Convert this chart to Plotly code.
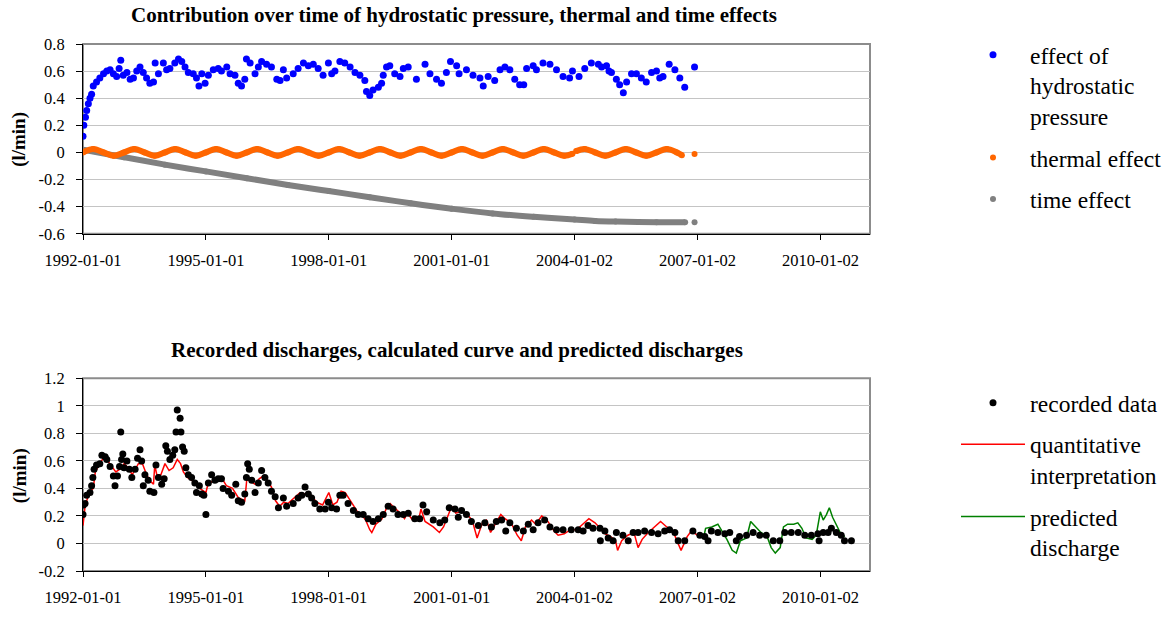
import pandas as pd
import plotly.graph_objects as go

# ---------------- data (x as decimal years) ----------------
# Upper chart: decomposition of the discharge model
hydro_years = [
    1992.00, 1992.02, 1992.06, 1992.09, 1992.13, 1992.17, 1992.21, 1992.25, 1992.33, 1992.41,
    1992.50, 1992.58, 1992.66, 1992.74, 1992.82, 1992.88, 1992.92, 1992.98, 1993.07, 1993.15,
    1993.23, 1993.31, 1993.39, 1993.47, 1993.55, 1993.63, 1993.72, 1993.76, 1993.84, 1993.96,
    1994.04, 1994.12, 1994.24, 1994.33, 1994.41, 1994.49, 1994.57, 1994.69, 1994.77, 1994.83,
    1994.90, 1994.98, 1995.06, 1995.18, 1995.30, 1995.38, 1995.51, 1995.59, 1995.71, 1995.79,
    1995.87, 1995.95, 1995.99, 1996.08, 1996.20, 1996.28, 1996.36, 1996.48, 1996.60, 1996.73,
    1996.81, 1996.89, 1996.97, 1997.13, 1997.25, 1997.38, 1997.50, 1997.62, 1997.74, 1997.86,
    1997.99, 1998.07, 1998.15, 1998.27, 1998.39, 1998.52, 1998.64, 1998.76, 1998.88, 1998.92,
    1999.00, 1999.08, 1999.21, 1999.29, 1999.33, 1999.41, 1999.49, 1999.61, 1999.74, 1999.82,
    1999.94, 2000.14, 2000.35, 2000.47, 2000.63, 2000.75, 2000.87, 2000.97, 2001.12, 2001.18,
    2001.36, 2001.52, 2001.69, 2001.77, 2001.89, 2002.05, 2002.18, 2002.30, 2002.42, 2002.54,
    2002.66, 2002.76, 2002.83, 2002.99, 2003.07, 2003.23, 2003.40, 2003.56, 2003.72, 2003.88,
    2003.95, 2004.11, 2004.25, 2004.41, 2004.58, 2004.66, 2004.78, 2004.84, 2004.90, 2005.02,
    2005.10, 2005.19, 2005.27, 2005.39, 2005.51, 2005.63, 2005.75, 2005.88, 2006.00, 2006.08,
    2006.16, 2006.31, 2006.45, 2006.57, 2006.69, 2006.93,
]
hydro_values = [
    0.12, 0.20, 0.26, 0.31, 0.36, 0.40, 0.43, 0.49, 0.52, 0.55,
    0.58, 0.60, 0.61, 0.58, 0.56, 0.62, 0.68, 0.57, 0.59, 0.54,
    0.55, 0.60, 0.63, 0.59, 0.55, 0.51, 0.52, 0.66, 0.58, 0.66,
    0.61, 0.62, 0.66, 0.69, 0.67, 0.63, 0.59, 0.58, 0.55, 0.49,
    0.58, 0.51, 0.57, 0.61, 0.62, 0.60, 0.63, 0.58, 0.57, 0.51,
    0.49, 0.54, 0.69, 0.66, 0.58, 0.63, 0.67, 0.65, 0.63, 0.54,
    0.53, 0.61, 0.55, 0.58, 0.62, 0.66, 0.64, 0.65, 0.62, 0.57,
    0.66, 0.58, 0.60, 0.67, 0.66, 0.63, 0.59, 0.57, 0.53, 0.45,
    0.42, 0.46, 0.48, 0.51, 0.57, 0.63, 0.64, 0.58, 0.56, 0.62,
    0.63, 0.54, 0.65, 0.58, 0.54, 0.51, 0.59, 0.67, 0.64, 0.58,
    0.61, 0.57, 0.55, 0.49, 0.56, 0.53, 0.61, 0.63, 0.61, 0.54,
    0.50, 0.50, 0.62, 0.64, 0.61, 0.66, 0.65, 0.61, 0.56, 0.55,
    0.60, 0.56, 0.62, 0.66, 0.65, 0.63, 0.64, 0.60, 0.59, 0.54,
    0.50, 0.44, 0.52, 0.58, 0.58, 0.55, 0.52, 0.59, 0.60, 0.55,
    0.56, 0.65, 0.61, 0.55, 0.48, 0.63,
]

thermal_years = [
    1992.00, 1992.25, 1992.50, 1992.75, 1993.00, 1993.25, 1993.50, 1993.75,
    1994.00, 1994.25, 1994.50, 1994.75, 1995.00, 1995.25, 1995.50, 1995.75,
    1996.00, 1996.25, 1996.50, 1996.75, 1997.00, 1997.25, 1997.50, 1997.75,
    1998.00, 1998.25, 1998.50, 1998.75, 1999.00, 1999.25, 1999.50, 1999.75,
    2000.00, 2000.25, 2000.50, 2000.75, 2001.00, 2001.25, 2001.50, 2001.75,
    2002.00, 2002.25, 2002.50, 2002.75, 2003.00, 2003.25, 2003.50, 2003.75, 2003.95,
    None,
    2004.04, 2004.25, 2004.50, 2004.75, 2005.00, 2005.25, 2005.50, 2005.75,
    2006.00, 2006.25, 2006.50, 2006.62,
    None,
    2006.93,
]
thermal_values = [
    0.0, 0.025, 0.0, -0.025, 0.0, 0.025, 0.0, -0.025,
    0.0, 0.025, 0.0, -0.025, 0.0, 0.025, 0.0, -0.025,
    0.0, 0.025, 0.0, -0.025, 0.0, 0.025, 0.0, -0.025,
    0.0, 0.025, 0.0, -0.025, 0.0, 0.025, 0.0, -0.025,
    0.0, 0.025, 0.0, -0.025, 0.0, 0.025, 0.0, -0.025,
    0.0, 0.025, 0.0, -0.025, 0.0, 0.025, 0.0, -0.025, -0.01,
    None,
    0.01, 0.025, 0.0, -0.025, 0.0, 0.025, 0.0, -0.025,
    0.0, 0.025, 0.0, -0.02,
    None,
    -0.012,
]

time_years = [1992.00, 1993.00, 1994.00, 1995.00, 1996.00, 1997.00, 1998.00, 1999.00,
              2000.00, 2001.00, 2002.00, 2003.00, 2004.00, 2004.50, 2005.00, 2006.00,
              2006.70, None, 2006.93]
time_values = [0.02, -0.035, -0.09, -0.14, -0.19, -0.24, -0.285, -0.33,
               -0.375, -0.415, -0.45, -0.475, -0.495, -0.505, -0.51, -0.515,
               -0.515, None, -0.515]

# Lower chart: observed discharge, fitted model and forecast
recorded_years = [
    1992.00, 1992.01, 1992.05, 1992.09, 1992.17, 1992.21, 1992.24, 1992.27, 1992.33, 1992.41,
    1992.46, 1992.54, 1992.58, 1992.66, 1992.74, 1992.78, 1992.84, 1992.89, 1992.92, 1992.94,
    1992.97, 1993.00, 1993.07, 1993.13, 1993.19, 1993.27, 1993.33, 1993.39, 1993.43, 1993.47,
    1993.51, 1993.59, 1993.63, 1993.73, 1993.78, 1993.84, 1993.92, 1993.98, 1994.02, 1994.06,
    1994.12, 1994.19, 1994.24, 1994.27, 1994.30, 1994.37, 1994.39, 1994.43, 1994.47, 1994.51,
    1994.57, 1994.65, 1994.73, 1994.77, 1994.84, 1994.90, 1994.95, 1995.00, 1995.06, 1995.14,
    1995.22, 1995.30, 1995.38, 1995.42, 1995.55, 1995.63, 1995.73, 1995.79, 1995.87, 1995.95,
    1995.99, 1996.02, 1996.06, 1996.12, 1996.20, 1996.28, 1996.36, 1996.44, 1996.52, 1996.60,
    1996.69, 1996.77, 1996.89, 1996.97, 1997.13, 1997.25, 1997.34, 1997.42, 1997.50, 1997.58,
    1997.66, 1997.78, 1997.91, 1997.99, 1998.07, 1998.19, 1998.27, 1998.35, 1998.47, 1998.60,
    1998.72, 1998.84, 1998.96, 1999.08, 1999.21, 1999.33, 1999.45, 1999.57, 1999.69, 1999.82,
    1999.94, 2000.10, 2000.22, 2000.30, 2000.39, 2000.55, 2000.71, 2000.83, 2000.94, 2001.08,
    2001.16, 2001.24, 2001.36, 2001.48, 2001.65, 2001.81, 2001.97, 2002.09, 2002.22, 2002.32,
    2002.42, 2002.58, 2002.75, 2002.87, 2002.99, 2003.11, 2003.27, 2003.40, 2003.56, 2003.72,
    2003.92, 2004.09, 2004.21, 2004.33, 2004.45, 2004.62, 2004.63, 2004.74, 2004.82, 2004.94,
    2005.02, 2005.18, 2005.31, 2005.43, 2005.55, 2005.71, 2005.88, 2006.04, 2006.20, 2006.32,
    2006.45, 2006.53, 2006.69, 2006.89, 2007.06, 2007.18, 2007.26, 2007.34, 2007.50, 2007.67,
    2007.79, 2007.95, 2008.03, 2008.20, 2008.36, 2008.52, 2008.68, 2008.85, 2009.01, 2009.13,
    2009.29, 2009.46, 2009.62, 2009.78, 2009.94, 2009.97, 2010.07, 2010.19, 2010.27, 2010.39,
    2010.51, 2010.59, 2010.76,
]
recorded_values = [
    0.21, 0.28, 0.29, 0.35, 0.37, 0.42, 0.48, 0.54, 0.57, 0.58,
    0.64, 0.63, 0.61, 0.56, 0.49, 0.42, 0.49, 0.56, 0.81, 0.61,
    0.65, 0.55, 0.60, 0.54, 0.48, 0.54, 0.62, 0.68, 0.60, 0.42,
    0.50, 0.46, 0.38, 0.37, 0.57, 0.48, 0.43, 0.47, 0.71, 0.67,
    0.61, 0.64, 0.68, 0.81, 0.97, 0.91, 0.81, 0.70, 0.67, 0.55,
    0.50, 0.48, 0.44, 0.37, 0.42, 0.36, 0.35, 0.21, 0.44, 0.50,
    0.46, 0.47, 0.47, 0.40, 0.38, 0.35, 0.43, 0.31, 0.30, 0.36,
    0.48, 0.58, 0.54, 0.46, 0.37, 0.44, 0.53, 0.48, 0.44, 0.38,
    0.34, 0.26, 0.33, 0.27, 0.29, 0.33, 0.35, 0.41, 0.36, 0.33,
    0.29, 0.25, 0.25, 0.30, 0.26, 0.25, 0.35, 0.35, 0.29, 0.24,
    0.21, 0.21, 0.18, 0.16, 0.18, 0.21, 0.27, 0.25, 0.21, 0.21,
    0.22, 0.18, 0.18, 0.28, 0.23, 0.17, 0.15, 0.17, 0.26, 0.25,
    0.19, 0.24, 0.21, 0.16, 0.13, 0.15, 0.12, 0.16, 0.17, 0.09,
    0.15, 0.11, 0.09, 0.14, 0.10, 0.15, 0.17, 0.12, 0.10, 0.10,
    0.10, 0.10, 0.09, 0.13, 0.11, 0.11, 0.02, 0.09, 0.04, 0.02,
    0.08, 0.06, 0.02, 0.08, 0.08, 0.09, 0.08, 0.07, 0.09, 0.10,
    0.08, 0.02, 0.02, 0.09, 0.06, 0.05, 0.02, 0.09, 0.08, 0.07,
    0.08, 0.02, 0.05, 0.06, 0.08, 0.06, 0.06, 0.02, 0.02, 0.08,
    0.08, 0.08, 0.06, 0.06, 0.07, 0.02, 0.08, 0.08, 0.11, 0.08,
    0.06, 0.02, 0.02,
]

model_years = [
    1992.00, 1992.05, 1992.15, 1992.25, 1992.30, 1992.40, 1992.50, 1992.60, 1992.70, 1992.80,
    1992.95, 1993.00, 1993.10, 1993.20, 1993.35, 1993.45, 1993.55, 1993.65, 1993.72, 1993.75,
    1993.80, 1993.90, 1994.00, 1994.10, 1994.20, 1994.30, 1994.38, 1994.45, 1994.55, 1994.70,
    1994.85, 1995.00, 1995.05, 1995.20, 1995.30, 1995.40, 1995.50, 1995.65, 1995.80, 1995.95,
    1996.00, 1996.10, 1996.20, 1996.30, 1996.40, 1996.50, 1996.60, 1996.70, 1996.80, 1996.90,
    1997.00, 1997.15, 1997.30, 1997.40, 1997.50, 1997.60, 1997.70, 1997.85, 1998.00, 1998.10,
    1998.20, 1998.30, 1998.40, 1998.55, 1998.70, 1998.80, 1998.90, 1999.00, 1999.05, 1999.15,
    1999.30, 1999.40, 1999.50, 1999.60, 1999.75, 1999.85, 1999.92, 2000.05, 2000.20, 2000.25,
    2000.35, 2000.55, 2000.70, 2000.80, 2000.90, 2001.00, 2001.10, 2001.20, 2001.35, 2001.50,
    2001.62, 2001.75, 2001.85, 2001.95, 2002.10, 2002.20, 2002.30, 2002.45, 2002.60, 2002.70,
    2002.80, 2002.95, 2003.05, 2003.20, 2003.35, 2003.50, 2003.60, 2003.75, 2003.90, 2004.05,
    2004.20, 2004.35, 2004.50, 2004.65, 2004.75, 2004.88, 2005.00, 2005.05, 2005.15, 2005.30,
    2005.45, 2005.55, 2005.65, 2005.80, 2005.95, 2006.10, 2006.25, 2006.40, 2006.50, 2006.60,
    2006.75, 2006.85, 2007.00,
]
model_values = [
    0.13, 0.27, 0.37, 0.40, 0.52, 0.58, 0.62, 0.60, 0.56, 0.52,
    0.55, 0.58, 0.55, 0.50, 0.58, 0.58, 0.50, 0.45, 0.43, 0.57,
    0.50, 0.50, 0.58, 0.53, 0.55, 0.61, 0.58, 0.52, 0.48, 0.45,
    0.40, 0.37, 0.43, 0.46, 0.48, 0.47, 0.42, 0.40, 0.33, 0.31,
    0.47, 0.45, 0.43, 0.47, 0.49, 0.46, 0.41, 0.31, 0.27, 0.30,
    0.29, 0.33, 0.37, 0.36, 0.37, 0.34, 0.30, 0.28, 0.37, 0.28,
    0.30, 0.38, 0.37, 0.30, 0.23, 0.21, 0.17, 0.10, 0.08, 0.14,
    0.18, 0.25, 0.29, 0.26, 0.22, 0.18, 0.22, 0.17, 0.18, 0.25,
    0.16, 0.12, 0.08, 0.12, 0.20, 0.27, 0.22, 0.23, 0.22, 0.17,
    0.04, 0.15, 0.17, 0.08, 0.16, 0.21, 0.18, 0.15, 0.06, 0.02,
    0.12, 0.17, 0.14, 0.20, 0.16, 0.09, 0.06, 0.07, 0.10, 0.10,
    0.14, 0.18, 0.15, 0.10, 0.07, 0.05, 0.02, -0.05, 0.02, 0.06,
    0.08, -0.03, 0.03, 0.08, 0.12, 0.16, 0.12, 0.09, 0.02, -0.05,
    0.05, 0.09, 0.06,
]

forecast_years = [
    2007.05, 2007.15, 2007.20, 2007.35, 2007.50, 2007.60, 2007.72, 2007.85, 2007.95, 2008.05,
    2008.20, 2008.30, 2008.40, 2008.55, 2008.70, 2008.80, 2008.90, 2009.02, 2009.10, 2009.20,
    2009.35, 2009.45, 2009.55, 2009.65, 2009.80, 2009.90, 2010.00, 2010.07, 2010.15, 2010.22,
    2010.30, 2010.40, 2010.50, 2010.60,
]
forecast_values = [
    0.06, 0.04, 0.11, 0.12, 0.14, 0.09, 0.03, -0.05, -0.07, 0.02,
    0.04, 0.16, 0.13, 0.08, 0.05, -0.03, -0.07, -0.03, 0.12, 0.14,
    0.14, 0.15, 0.11, 0.04, 0.03, 0.06, 0.23, 0.17, 0.21, 0.26,
    0.19, 0.13, 0.07, 0.05,
]

x_tick_labels = ["1992-01-01", "1995-01-01", "1998-01-01", "2001-01-01",
                 "2004-01-02", "2007-01-02", "2010-01-02"]
x_range = ["1992-01-01", "2011-03-20"]
top_y_ticks = [0.8, 0.6, 0.4, 0.2, 0, -0.2, -0.4, -0.6]
top_y_labels = ["0.8", "0.6", "0.4", "0.2", "0", "-0.2", "-0.4", "-0.6"]
bottom_y_ticks = [1.2, 1.0, 0.8, 0.6, 0.4, 0.2, 0, -0.2]
bottom_y_labels = ["1.2", "1", "0.8", "0.6", "0.4", "0.2", "0", "-0.2"]


def to_dates(years):
    """Convert decimal years to timestamps (None keeps a gap)."""
    out = []
    for y in years:
        if y is None:
            out.append(None)
            continue
        yi = int(y)
        start = pd.Timestamp(year=yi, month=1, day=1)
        end = pd.Timestamp(year=yi + 1, month=1, day=1)
        out.append(start + (end - start) * (y - yi))
    return out


FONT = "Liberation Serif"
fig = go.Figure()

# ---- upper chart ----
fig.add_trace(go.Scatter(
    x=to_dates(time_years), y=time_values, mode="lines",
    line=dict(color="#808080", width=6, shape="spline"),
    xaxis="x", yaxis="y", showlegend=False, hoverinfo="skip"))
fig.add_trace(go.Scatter(
    x=to_dates(time_years), y=time_values, mode="markers", name="time effect",
    marker=dict(color="#808080", size=6), xaxis="x", yaxis="y",
    legend="legend", legendgroup="g3", legendrank=3))
fig.add_trace(go.Scatter(
    x=to_dates(thermal_years), y=thermal_values, mode="lines",
    line=dict(color="#FF6600", width=6, shape="spline"),
    xaxis="x", yaxis="y", showlegend=False, hoverinfo="skip"))
fig.add_trace(go.Scatter(
    x=to_dates(thermal_years), y=thermal_values, mode="markers", name="thermal effect",
    marker=dict(color="#FF6600", size=6), xaxis="x", yaxis="y",
    legend="legend", legendgroup="g2", legendrank=2))
fig.add_trace(go.Scatter(
    x=to_dates(hydro_years), y=hydro_values, mode="markers",
    name="effect of<br>hydrostatic<br>pressure",
    marker=dict(color="#0000FF", size=7), xaxis="x", yaxis="y",
    legend="legend", legendgroup="g1", legendrank=1))

# ---- lower chart ----
fig.add_trace(go.Scatter(
    x=to_dates(model_years), y=model_values, mode="lines",
    name="quantitative<br>interpretation",
    line=dict(color="#FF0000", width=1.5), xaxis="x2", yaxis="y2",
    legend="legend2", legendgroup="h2", legendrank=2))
fig.add_trace(go.Scatter(
    x=to_dates(forecast_years), y=forecast_values, mode="lines",
    name="predicted<br>discharge",
    line=dict(color="#008000", width=1.5), xaxis="x2", yaxis="y2",
    legend="legend2", legendgroup="h3", legendrank=3))
fig.add_trace(go.Scatter(
    x=to_dates(recorded_years), y=recorded_values, mode="markers",
    name="recorded data",
    marker=dict(color="#000000", size=7), xaxis="x2", yaxis="y2",
    legend="legend2", legendgroup="h1", legendrank=1))

# ---- axes ----
TICK_SIZE = 16.5
xcommon = dict(
    type="date", range=x_range, tickvals=x_tick_labels, ticktext=x_tick_labels,
    showgrid=False, showline=True, linecolor="black", linewidth=1,
    ticks="outside", ticklen=5, tickcolor="black",
    tickfont=dict(family=FONT, size=TICK_SIZE, color="black"),
    zeroline=False, ticklabelstandoff=6,
)
ycommon = dict(
    showgrid=True, gridcolor="#c4c4c4", gridwidth=1,
    showline=True, linecolor="black", linewidth=1,
    ticks="outside", ticklen=6, tickcolor="black",
    tickfont=dict(family=FONT, size=TICK_SIZE, color="black"),
    zeroline=False, ticklabelstandoff=8,
)

W, H = 1174, 619
L, R, T, B = 83, 304, 44, 39
plot_h = H - T - B
top_dom = [(H - B - 237) / plot_h, 1.0]
bot_dom = [0.0, (H - B - 384) / plot_h]

LEGEND_SIZE = 23.5
fig.update_layout(
    width=W, height=H,
    margin=dict(l=L, r=R, t=T, b=B),
    paper_bgcolor="white", plot_bgcolor="white",
    xaxis=dict(xcommon, domain=[0, 1], anchor="y"),
    yaxis=dict(ycommon, domain=top_dom, range=[-0.6, 0.8],
               tickvals=top_y_ticks, ticktext=top_y_labels, anchor="x"),
    xaxis2=dict(xcommon, domain=[0, 1], anchor="y2"),
    yaxis2=dict(ycommon, domain=bot_dom, range=[-0.2, 1.2],
                tickvals=bottom_y_ticks, ticktext=bottom_y_labels, anchor="x2"),
    legend=dict(
        xref="container", yref="container", x=956 / W, y=1 - 33 / H,
        xanchor="left", yanchor="top", valign="top",
        font=dict(family=FONT, size=LEGEND_SIZE, color="black"),
        tracegroupgap=8, itemwidth=64, bgcolor="rgba(0,0,0,0)",
    ),
    legend2=dict(
        xref="container", yref="container", x=956 / W, y=1 - 381 / H,
        xanchor="left", yanchor="top", valign="top",
        font=dict(family=FONT, size=LEGEND_SIZE, color="black"),
        tracegroupgap=8, itemwidth=64, bgcolor="rgba(0,0,0,0)",
    ),
)

# plot-area frames
for xr, yr in (("x domain", "y domain"), ("x2 domain", "y2 domain")):
    fig.add_shape(type="rect", xref=xr, yref=yr, x0=0, x1=1, y0=0, y1=1,
                  line=dict(color="#8c8c8c", width=2), layer="below")

plot_w = W - L - R


def px_x(px):
    return (px - L) / plot_w


def px_y(py):
    return (H - B - py) / plot_h


fig.add_annotation(text="<b>Contribution over time of hydrostatic pressure, thermal and time effects</b>",
                   xref="paper", yref="paper", x=px_x(453.5), y=px_y(15),
                   xanchor="center", yanchor="middle", showarrow=False,
                   font=dict(family=FONT, size=21, color="black"))
fig.add_annotation(text="<b>Recorded discharges, calculated curve and predicted discharges</b>",
                   xref="paper", yref="paper", x=px_x(457), y=px_y(355),
                   xanchor="center", yanchor="middle", showarrow=False,
                   font=dict(family=FONT, size=21, color="black"))

for cy in (141, 483):
    fig.add_annotation(text="<b>(l/min)</b>", xref="paper", yref="paper",
                       x=px_x(19.5), y=px_y(cy), xanchor="center", yanchor="middle",
                       textangle=-90, showarrow=False,
                       font=dict(family=FONT, size=19, color="black"))

fig.write_html("out.html")
